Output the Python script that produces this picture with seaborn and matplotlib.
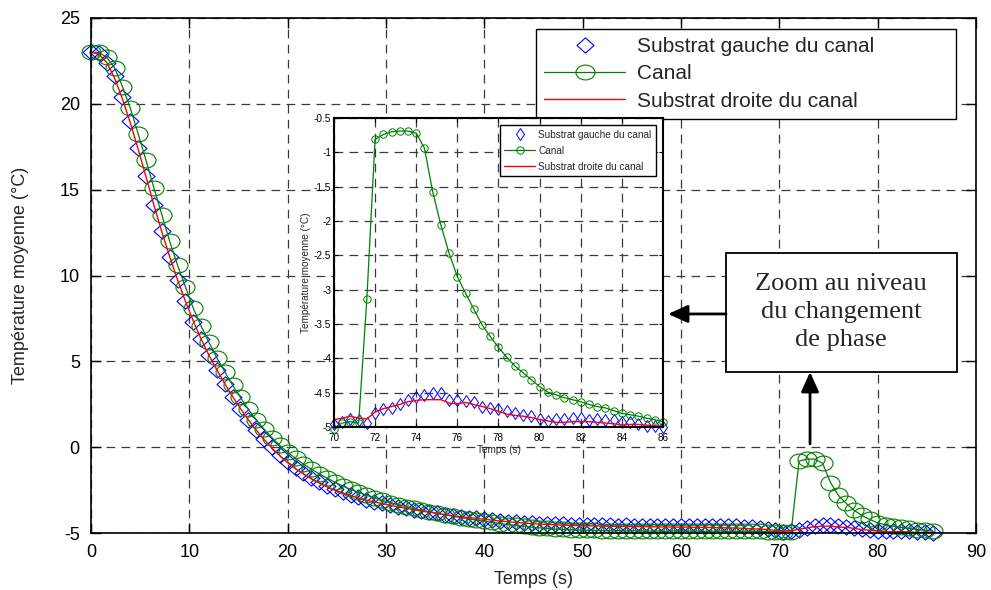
import numpy as np
import matplotlib
matplotlib.use("Agg")
import matplotlib.pyplot as plt
import seaborn as sns
from matplotlib.markers import MarkerStyle
from matplotlib.path import Path
from matplotlib.transforms import Affine2D
from matplotlib.patches import Rectangle
from matplotlib.ticker import MultipleLocator, FormatStrFormatter

# --- Donnees ---
pas_main = 0.8    # pas de temps de la courbe principale (s), de 0 a 69.6 s
pas_zoom = 0.4    # pas de temps du zoom (s)
t0_zoom = 70.0

canal_main = [23.0, 23.0, 22.7, 22.1, 21.0, 19.75, 18.25, 16.7, 15.1, 13.55,
              12.0, 10.6, 9.35, 8.1, 7.05, 6.1, 5.2, 4.4, 3.6, 2.9,
              2.2, 1.6, 1.05, 0.55, 0.1, -0.3, -0.65, -0.98, -1.28, -1.55,
              -1.8, -2.04, -2.26, -2.46, -2.64, -2.8, -2.96, -3.1, -3.23, -3.35,
              -3.46, -3.57, -3.67, -3.76, -3.85, -3.94, -4.02, -4.1, -4.17, -4.25,
              -4.32, -4.38, -4.45, -4.51, -4.56, -4.6, -4.66, -4.7, -4.73, -4.77,
              -4.79, -4.81, -4.83, -4.84, -4.85, -4.86, -4.87, -4.86, -4.88, -4.87,
              -4.88, -4.89, -4.88, -4.9, -4.88, -4.87, -4.89, -4.88, -4.9, -4.89,
              -4.88, -4.9, -4.91, -4.89, -4.9, -4.91, -4.92, -4.93]

gauche_main = [23.0, 22.95, 22.4, 21.6, 20.4, 19.0, 17.4, 15.8, 14.1, 12.6,
               11.1, 9.75, 8.5, 7.3, 6.3, 5.35, 4.5, 3.7, 2.95, 2.25,
               1.6, 1.0, 0.5, 0.0, -0.45, -0.85, -1.2, -1.5, -1.78, -2.03,
               -2.25, -2.45, -2.62, -2.78, -2.92, -3.05, -3.17, -3.28, -3.38, -3.47,
               -3.56, -3.64, -3.72, -3.79, -3.86, -3.93, -3.99, -4.05, -4.1, -4.15,
               -4.2, -4.25, -4.29, -4.33, -4.37, -4.4, -4.43, -4.45, -4.47, -4.49,
               -4.5, -4.52, -4.53, -4.54, -4.55, -4.56, -4.56, -4.57, -4.56, -4.57,
               -4.58, -4.57, -4.58, -4.59, -4.58, -4.58, -4.59, -4.6, -4.59, -4.6,
               -4.61, -4.6, -4.62, -4.63, -4.64, -4.68, -4.74, -4.82]

droite_main = [23.0, 22.9, 22.4, 21.5, 20.3, 18.9, 17.35, 15.75, 14.1, 12.55,
               11.1, 9.75, 8.5, 7.35, 6.3, 5.35, 4.5, 3.7, 2.95, 2.25,
               1.6, 1.0, 0.45, -0.05, -0.5, -0.9, -1.25, -1.56, -1.84, -2.08,
               -2.3, -2.5, -2.67, -2.82, -2.96, -3.08, -3.19, -3.29, -3.38, -3.47,
               -3.56, -3.64, -3.72, -3.79, -3.86, -3.93, -3.99, -4.05, -4.1, -4.15,
               -4.2, -4.25, -4.3, -4.34, -4.38, -4.42, -4.45, -4.48, -4.5, -4.52,
               -4.54, -4.56, -4.57, -4.58, -4.59, -4.6, -4.61, -4.62, -4.62, -4.63,
               -4.63, -4.64, -4.64, -4.65, -4.65, -4.66, -4.66, -4.67, -4.67, -4.68,
               -4.69, -4.7, -4.71, -4.73, -4.75, -4.77, -4.8, -4.85]

# zoom : 70 s a 86 s
canal_zoom = [-5.02, -4.94, -4.92, -4.94, -3.13, -0.81, -0.74, -0.70, -0.69, -0.69,
              -0.72, -0.94, -1.57, -2.06, -2.47, -2.81, -3.05, -3.28, -3.51, -3.68,
              -3.84, -3.98, -4.11, -4.21, -4.31, -4.41, -4.49, -4.53, -4.57, -4.60,
              -4.63, -4.67, -4.70, -4.72, -4.76, -4.80, -4.82, -4.84, -4.87, -4.89,
              -4.92]

gauche_zoom = [-4.95, -4.92, -4.88, -4.90, -4.94, -4.80, -4.73, -4.72, -4.67, -4.60,
               -4.56, -4.53, -4.51, -4.51, -4.60, -4.61, -4.62, -4.64, -4.70, -4.72,
               -4.74, -4.77, -4.80, -4.82, -4.84, -4.88, -4.91, -4.88, -4.88, -4.87,
               -4.87, -4.89, -4.88, -4.89, -4.90, -4.93, -4.92, -4.95, -4.98, -4.99,
               -5.00]

droite_zoom = [-4.89, -4.87, -4.84, -4.87, -4.88, -4.78, -4.73, -4.70, -4.67, -4.63,
               -4.61, -4.60, -4.60, -4.60, -4.65, -4.66, -4.64, -4.67, -4.70, -4.73,
               -4.77, -4.81, -4.83, -4.84, -4.86, -4.89, -4.91, -4.93, -4.93, -4.92,
               -4.92, -4.92, -4.93, -4.94, -4.95, -4.97, -4.96, -4.96, -4.97, -4.98,
               -4.99]

noms = ["Substrat gauche du canal", "Canal", "Substrat droite du canal"]
x_ticks_main = [0, 10, 20, 30, 40, 50, 60, 70, 80, 90]
y_ticks_main = [-5, 0, 5, 10, 15, 20, 25]

# --- Assemblage ---
temps_zoom = t0_zoom + pas_zoom * np.arange(len(canal_zoom))
temps_main = np.concatenate([pas_main * np.arange(len(canal_main)), temps_zoom[1::2]])
canal_all = np.concatenate([canal_main, np.array(canal_zoom)[1::2]])
gauche_all = np.concatenate([gauche_main, np.array(gauche_zoom)[1::2]])
droite_all = np.concatenate([droite_main, np.array(droite_zoom)[1::2]])

# --- Style ---
sns.set_theme(style="white", rc={
    "xtick.direction": "in", "ytick.direction": "in",
    "xtick.top": True, "ytick.right": True,
    "xtick.bottom": True, "ytick.left": True,
    "axes.edgecolor": "black", "axes.linewidth": 1.2,
    "axes.unicode_minus": False,
})
plt.rcParams["font.family"] = ["Liberation Sans", "DejaVu Sans"]

# marqueurs un peu aplatis (figure etiree)
rond = MarkerStyle(Path.unit_circle().transformed(Affine2D().scale(1.0, 0.78)))
losange = MarkerStyle(Path([(-1, 0), (0, 0.9), (1, 0), (0, -0.9), (-1, 0)],
                           [Path.MOVETO, Path.LINETO, Path.LINETO, Path.LINETO, Path.CLOSEPOLY]))

grid_kw = dict(color="#3a3a3a", linestyle=(0, (7, 5)), linewidth=0.9)

fig = plt.figure(figsize=(9.91, 5.90), dpi=100)
ax = fig.add_axes([0.0918, 0.0966, 0.8931, 0.8729])

sns.lineplot(x=temps_main, y=gauche_all, ax=ax, estimator=None, sort=False,
             linestyle="none", marker=losange, markersize=12.2, markerfacecolor="none",
             markeredgecolor="blue", markeredgewidth=0.8, color="blue",
             label=noms[0], clip_on=False)
sns.lineplot(x=temps_main, y=canal_all, ax=ax, estimator=None, sort=False,
             color="green", linewidth=0.9, marker=rond, markersize=13.7,
             markerfacecolor="none", markeredgecolor="green", markeredgewidth=0.8,
             label=noms[1], clip_on=False)
sns.lineplot(x=temps_main, y=droite_all, ax=ax, estimator=None, sort=False,
             color="red", linewidth=1.0, label=noms[2], clip_on=False)

ax.set_xlim(0, 90)
ax.set_ylim(-5, 25)
ax.set_xticks(x_ticks_main)
ax.set_yticks(y_ticks_main)
ax.grid(True, **grid_kw)
ax.tick_params(length=7, width=1, labelsize=13, pad=8, colors="black")
ax.set_xlabel("Temps (s)", fontsize=13, labelpad=7)
ax.set_ylabel("Température moyenne (°C)", fontsize=13, labelpad=22)

leg = ax.legend(loc="upper left", bbox_to_anchor=(0.503, 0.804, 0.474, 0.1746),
                mode="expand", borderaxespad=0, fontsize=15, handlelength=3.9,
                handletextpad=0.55, labelspacing=0.4, borderpad=0.38,
                fancybox=False, framealpha=1, edgecolor="black")
leg.get_frame().set_linewidth(1.0)
leg.set_zorder(20)

# encadre + fleches
boite = Rectangle((64.58, 4.38), 23.49, 6.93, facecolor="white", edgecolor="black",
                  linewidth=1.3, zorder=15, clip_on=False)
ax.add_patch(boite)
ax.text(76.3, 7.85, "Zoom au niveau\ndu changement\nde phase", ha="center", va="center",
        fontsize=19, family=["Liberation Serif", "DejaVu Serif"], linespacing=1.35, zorder=16)
fleche = dict(arrowstyle="-|>,head_length=1.2,head_width=0.54", color="black", lw=2.0,
              shrinkA=0, shrinkB=0, mutation_scale=10)
ax.annotate("", xy=(58.68, 7.76), xytext=(64.58, 7.76), arrowprops=fleche, zorder=16)
ax.annotate("", xy=(73.12, 4.38), xytext=(73.12, 0.19), arrowprops=fleche, zorder=16)

# --- Zoom ---
axin = fig.add_axes([0.337, 0.276, 0.332, 0.524])
axin.set_facecolor("white")
sns.lineplot(x=temps_zoom, y=gauche_zoom, ax=axin, estimator=None, sort=False,
             linestyle="none", marker="d", markersize=6.2, markerfacecolor="none",
             markeredgecolor="blue", markeredgewidth=0.7, color="blue",
             label=noms[0], clip_on=False)
sns.lineplot(x=temps_zoom, y=canal_zoom, ax=axin, estimator=None, sort=False,
             color="green", linewidth=0.9, marker="o", markersize=5.3,
             markerfacecolor="none", markeredgecolor="green", markeredgewidth=0.7,
             label=noms[1], clip_on=False)
sns.lineplot(x=temps_zoom, y=droite_zoom, ax=axin, estimator=None, sort=False,
             color="red", linewidth=1.0, label=noms[2], clip_on=False)

axin.set_xlim(70, 86)
axin.set_ylim(-5, -0.5)
axin.xaxis.set_major_locator(MultipleLocator(2))
axin.yaxis.set_major_locator(MultipleLocator(0.5))
axin.yaxis.set_major_formatter(FormatStrFormatter("%g"))
axin.grid(True, **grid_kw)
axin.tick_params(length=3, width=0.8, labelsize=7.2, colors="black")
axin.tick_params(axis="x", pad=4)
axin.tick_params(axis="y", pad=2)
for sp in axin.spines.values():
    sp.set_linewidth(1.5)
axin.set_xlabel("Temps (s)", fontsize=7.2, labelpad=2)
axin.set_ylabel("Température moyenne (°C)", fontsize=7.2, labelpad=2)
leg2 = axin.legend(loc="upper right", fontsize=7.2, handlelength=3.1, handletextpad=0.3,
                   labelspacing=0.6, borderpad=0.45, borderaxespad=0.7,
                   fancybox=False, framealpha=1, edgecolor="black")
leg2.get_frame().set_linewidth(1.0)

fig.savefig("out.png", dpi=100)
